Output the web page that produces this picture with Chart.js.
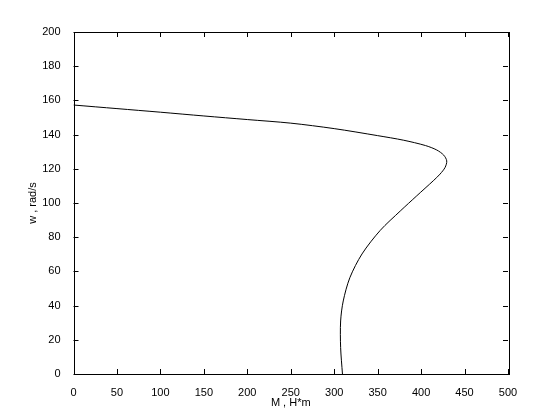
<!DOCTYPE html>
<html>
<head>
<meta charset="utf-8">
<script src="https://cdn.jsdelivr.net/npm/chart.js@4"></script>
<style>
  html, body { margin: 0; padding: 0; background: #fff; }
  #wrap { width: 560px; height: 420px; }
</style>
</head>
<body>
<div id="wrap"><canvas id="chart" width="560" height="420"></canvas></div>
<script>
// M , H*m  (torque) and w , rad/s (speed)
const torque = [0, 50, 100, 150, 200, 250, 300, 350, 380, 405, 418, 426, 429.5, 427.6, 421.8, 414, 395, 376, 353, 332, 318, 310.4, 307.4, 307.4, 309.5];
const speed  = [157.3, 155.2, 153.1, 150.9, 148.8, 146.7, 143.5, 139.4, 136.7, 133.6, 131, 128, 124.6, 120.8, 116.9, 113, 104.2, 95.3, 84, 70.2, 56.3, 42.7, 31, 15.4, 0];

const xTicks = [0, 50, 100, 150, 200, 250, 300, 350, 400, 450, 500];
const yTicks = [0, 20, 40, 60, 80, 100, 120, 140, 160, 180, 200];

const puntos = torque.map((m, i) => ({ x: m, y: speed[i] }));

// caja y marcas hacia dentro, al estilo de MATLAB
const cajaPlugin = {
  id: 'caja',
  afterDraw(chart) {
    const { ctx, chartArea: a, scales } = chart;
    ctx.save();
    ctx.strokeStyle = '#000';
    ctx.lineWidth = 1;
    ctx.beginPath();
    xTicks.forEach(v => {
      const px = Math.round(scales.x.getPixelForValue(v)) + 0.5;
      ctx.moveTo(px, a.bottom); ctx.lineTo(px, a.bottom - 5);
      ctx.moveTo(px, a.top); ctx.lineTo(px, a.top + 5);
    });
    yTicks.forEach(v => {
      const py = Math.round(scales.y.getPixelForValue(v)) + 0.5;
      ctx.moveTo(a.left, py); ctx.lineTo(a.left + 5, py);
      ctx.moveTo(a.right, py); ctx.lineTo(a.right - 5, py);
    });
    ctx.stroke();
    ctx.strokeRect(Math.round(a.left) + 0.5, Math.round(a.top) + 0.5,
                   Math.round(a.right - a.left), Math.round(a.bottom - a.top));
    ctx.restore();
  }
};

const fuente = { family: 'Arial, "Liberation Sans", sans-serif', size: 11 };

new Chart(document.getElementById('chart').getContext('2d'), {
  type: 'scatter',
  data: {
    datasets: [{
      data: puntos,
      showLine: true,
      borderColor: '#000',
      borderWidth: 1,
      pointRadius: 0,
      tension: 0.3,
      fill: false
    }]
  },
  options: {
    responsive: false,
    animation: false,
    layout: { padding: { top: 32, right: 52, left: 0, bottom: 0 } },
    plugins: { legend: { display: false }, tooltip: { enabled: false } },
    scales: {
      x: {
        type: 'linear', min: 0, max: 500,
        afterBuildTicks: s => { s.ticks = xTicks.map(v => ({ value: v })); },
        afterFit: s => { s.height = 46; },
        grid: { display: false },
        border: { display: false },
        ticks: { color: '#000', font: fuente, padding: 4, maxRotation: 0 },
        title: { display: true, text: 'M , H*m', color: '#000', font: fuente, padding: { top: 0, bottom: 10 } }
      },
      y: {
        type: 'linear', min: 0, max: 200,
        afterBuildTicks: s => { s.ticks = yTicks.map(v => ({ value: v })); },
        afterFit: s => { s.width = 73.5; },
        grid: { display: false },
        border: { display: false },
        ticks: { color: '#000', font: fuente, padding: 5 },
        title: { display: true, text: 'w , rad/s', color: '#000', font: fuente, padding: { top: 26, bottom: 0 } }
      }
    }
  },
  plugins: [cajaPlugin]
});
</script>
</body>
</html>
